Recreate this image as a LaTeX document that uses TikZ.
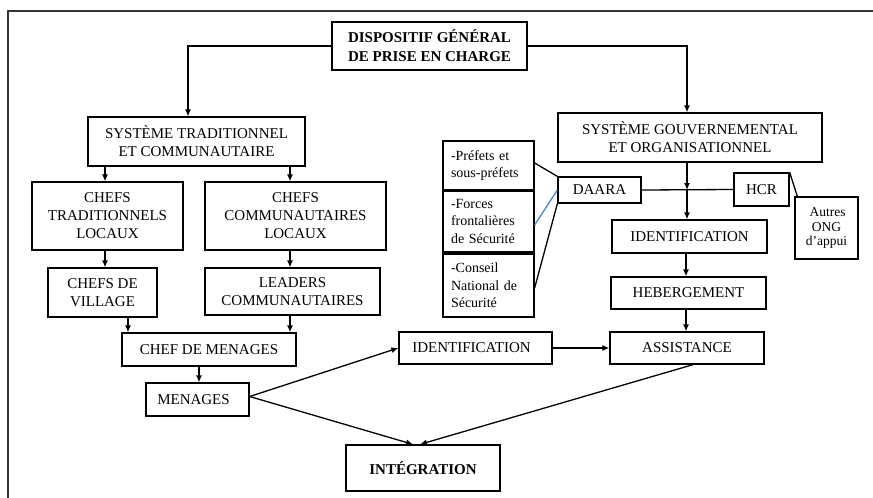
\documentclass[tikz,border=0pt]{standalone}
\usepackage{fontspec}
\setmainfont{Liberation Serif}
\usetikzlibrary{arrows.meta}
\begin{document}
\begin{tikzpicture}[x=1pt,y=-1pt,
  box/.style={draw, line width=1.3pt, inner sep=0pt, align=center, font=\fontsize{15}{18}\selectfont},
  sbox/.style={draw, line width=1.3pt, inner xsep=8pt, inner ysep=0pt, align=left, text width=75pt, minimum width=91pt, font=\fontsize{14}{17.5}\selectfont},
  arr/.style={line width=1.3pt, -{Latex[length=7pt,width=6pt]}},
  ln/.style={line width=1.3pt}]
\useasboundingbox (0,0) rectangle (873,498);
\draw[line width=1.5pt, black!80] (8,498) -- (8,11) -- (873,11);
% nodes
\node[box, minimum width=195pt, minimum height=48pt, font=\fontsize{15}{19}\selectfont\bfseries] (disp) at (429.5,46) {DISPOSITIF GÉNÉRAL\\DE PRISE EN CHARGE};
\node[box, minimum width=217pt, minimum height=49pt] (trad) at (196.5,141.5) {SYSTÈME TRADITIONNEL\\ET COMMUNAUTAIRE};
\node[box, minimum width=264pt, minimum height=49pt] (gouv) at (690,137.5) {SYSTÈME GOUVERNEMENTAL\\ET ORGANISATIONNEL};
\node[box, minimum width=151pt, minimum height=68pt] (ctl) at (107.5,216) {CHEFS\\TRADITIONNELS\\LOCAUX};
\node[box, minimum width=181pt, minimum height=68pt] (ccl) at (295.5,216) {CHEFS\\COMMUNAUTAIRES\\LOCAUX};
\node[box, minimum width=109pt, minimum height=49pt] (village) at (102.5,292.5) {CHEFS DE\\VILLAGE};
\node[box, minimum width=175pt, minimum height=47pt] (leaders) at (292.5,291.5) {LEADERS\\COMMUNAUTAIRES};
\node[box, minimum width=174pt, minimum height=33pt] (cdm) at (209,349.5) {CHEF DE MENAGES};
\node[box, minimum width=103pt, minimum height=33pt] (men) at (197.5,399.5) {MENAGES\hspace*{8pt}};
\node[box, minimum width=153pt, minimum height=32pt] (id1) at (475.5,348) {IDENTIFICATION\hspace*{8pt}};
\node[box, minimum width=154pt, minimum height=32pt] (ass) at (687,348) {ASSISTANCE};
\node[box, minimum width=155pt, minimum height=32pt] (heb) at (688.5,293) {HEBERGEMENT};
\node[box, minimum width=155pt, minimum height=33pt] (id2) at (689.5,236.5) {IDENTIFICATION};
\node[box, minimum width=83pt, minimum height=26pt] (daara) at (599.5,190) {DAARA};
\node[box, minimum width=55pt, minimum height=33pt] (hcr) at (761.5,189.5) {HCR};
\node[box, minimum width=63pt, minimum height=62pt, font=\fontsize{13.5}{14.5}\selectfont] (autres) at (826.5,228) {\hspace*{2pt}Autres\\ONG\\d’appui};
\node[box, minimum width=154pt, minimum height=46pt, font=\fontsize{15}{18}\selectfont\bfseries] (integ) at (423,468) {INTÉGRATION};
\node[sbox, minimum height=49pt] (pref) at (488.5,165.5) {-Préfets et\\sous-préfets};
\node[sbox, minimum height=62pt] (forces) at (488.5,221) {-Forces\\frontalières\\de Sécurité};
\node[sbox, minimum height=63pt] (conseil) at (488.5,285.5) {-Conseil\\National de\\Sécurité};
\draw[line width=2.4pt] (pref.south west) -- (pref.south east);
\coordinate (junc) at (687,190);
% connectors
\draw[arr] (disp.west) -| ([xshift=-8.5pt]trad.north);
\draw[arr] (disp.east) -| ([xshift=-3pt]gouv.north);
\draw[arr] (trad.south -| 105,0) -- (ctl.north -| 105,0);
\draw[arr] (trad.south -| 290,0) -- (ccl.north -| 290,0);
\draw[arr] (ctl.south -| 105,0) -- (village.north -| 105,0);
\draw[arr] (ccl.south -| 290,0) -- (leaders.north -| 290,0);
\draw[arr] (village.south -| 128,0) -- (cdm.north -| 128,0);
\draw[arr] (leaders.south -| 290,0) -- (cdm.north -| 290,0);
\draw[arr] (cdm.south -| 199,0) -- (men.north -| 199,0);
\draw[arr] ([yshift=3pt]men.east) -- (id1.west);
\draw[arr] ([yshift=3pt]men.east) -- (integ.north -| 413,0);
\draw[arr] (ass.south -| 693,0) -- (integ.north -| 420,0);
\draw[arr] (id1.east) -- (ass.west);
\draw[arr] (heb.south -| 686,0) -- (ass.north -| 686,0);
\draw[arr] (id2.south -| 686,0) -- (heb.north -| 686,0);
\draw[arr] (gouv.south -| junc) -- (junc);
\draw[arr] (junc) -- (id2.north -| junc);
\draw[ln] (daara.east) -- (hcr.west);
\draw[ln] (hcr.north east) -- ([xshift=3pt]autres.north west);
\draw[ln] ([yshift=2.5pt]pref.east) -- (daara.north west);
\draw[ln, color={rgb,255:red,80;green,130;blue,210}] ([yshift=-4pt]forces.east) -- (daara.west);
\draw[ln] ([yshift=-2.5pt]conseil.east) -- (daara.south west);
\end{tikzpicture}
\end{document}
